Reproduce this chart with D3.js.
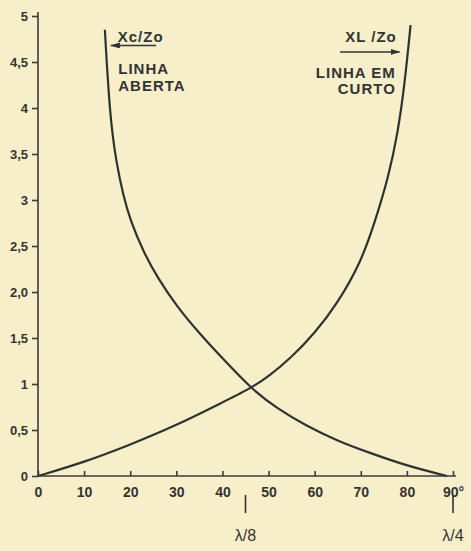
<!DOCTYPE html>
<head>
<meta charset="utf-8">
<style>
body { margin: 0; background: #f7efc9; }
svg { display: block; }
.tick text {
  font: bold 13px "Liberation Sans", Arial, sans-serif;
  fill: #333;
}
.note {
  font: bold 15px "Liberation Sans", Arial, sans-serif;
  fill: #333;
  letter-spacing: 1px;
}
</style>
</head>
<body>
<svg width="471" height="551"></svg>
<script src="https://d3js.org/d3.v7.min.js"></script>
<script>

// values (degrees, reactance / Zo)
var xlDeg = [0, 10, 20, 30, 40, 46, 50, 55, 60, 65, 70, 73, 76, 78, 79.5, 80.8];
var xlVal = [0, 0.15, 0.34, 0.55, 0.8, 0.95, 1.08, 1.29, 1.55, 1.88, 2.32, 2.75, 3.25, 3.72, 4.25, 4.9];

var xcDeg = [14.5, 15.6, 17, 18.5, 20, 23, 26, 30, 35, 40, 46.4, 52, 58, 65, 72, 80, 88.7];
var xcVal = [4.85, 3.9, 3.4, 3.05, 2.78, 2.42, 2.15, 1.85, 1.55, 1.28, 0.94, 0.73, 0.55, 0.38, 0.25, 0.11, 0];

var xTicks = [0, 10, 20, 30, 40, 50, 60, 70, 80, 90];
var xTickLabels = ["0", "10", "20", "30", "40", "50", "60", "70", "80", "90°"];
var yTicks = [0, 0.5, 1, 1.5, 2, 2.5, 3, 3.5, 4, 4.5, 5];
var yTickLabels = ["0", "0,5", "1", "1,5", "2,0", "2,5", "3", "3,5", "4", "4,5", "5"];

var marks = [45, 90];
var markLabels = ["λ/8", "λ/4"];

var svg = d3.select("svg");

var x = d3.scaleLinear().domain([0, 90]).range([38, 453]);
var y = d3.scaleLinear().domain([0, 5]).range([476, 16]);

svg.append("defs").append("marker")
    .attr("id", "head")
    .attr("viewBox", "0 0 10 6")
    .attr("refX", 9).attr("refY", 3)
    .attr("markerWidth", 10).attr("markerHeight", 6)
    .attr("markerUnits", "userSpaceOnUse")
    .attr("orient", "auto")
  .append("path")
    .attr("d", "M0,0L10,3L0,6Z")
    .attr("fill", "#333");

// axes
var xAxis = svg.append("g")
    .attr("transform", "translate(0," + y(0) + ")")
    .call(d3.axisBottom(x).tickValues(xTicks)
      .tickFormat(function(d, i) { return xTickLabels[i]; })
      .tickSizeInner(-5).tickSizeOuter(0).tickPadding(11));
xAxis.select(".domain").attr("d", "M" + x(0) + ",0H" + (x(90) + 3));
xAxis.selectAll(".tick text").style("font-size", "14px");

var yAxis = svg.append("g")
    .attr("transform", "translate(" + x(0) + ",0)")
    .call(d3.axisLeft(y).tickValues(yTicks)
      .tickFormat(function(d, i) { return yTickLabels[i]; })
      .tickSizeInner(6).tickSizeOuter(0).tickPadding(4));
yAxis.select(".domain").attr("d", "M0," + y(0) + "V" + (y(5) - 4));

svg.selectAll(".domain, .tick line")
    .attr("stroke", "#3a3a3a")
    .attr("stroke-width", 1.6);

// curves
var line = d3.line()
    .x(function(d) { return x(d[0]); })
    .y(function(d) { return y(d[1]); })
    .curve(d3.curveBasis);

svg.append("path")
    .datum(d3.zip(xlDeg, xlVal))
    .attr("d", line)
    .attr("fill", "none")
    .attr("stroke", "#2f3330")
    .attr("stroke-width", 2.2);

svg.append("path")
    .datum(d3.zip(xcDeg, xcVal))
    .attr("d", line)
    .attr("fill", "none")
    .attr("stroke", "#2f3330")
    .attr("stroke-width", 2.2);

// lambda markers under the x axis
marks.forEach(function(m, i) {
  svg.append("line")
      .attr("x1", x(m)).attr("x2", x(m))
      .attr("y1", 495).attr("y2", 513)
      .attr("stroke", "#333").attr("stroke-width", 1.6);
  svg.append("text")
      .attr("class", "note")
      .attr("x", x(m)).attr("y", 541)
      .attr("text-anchor", "middle")
      .style("font-weight", "normal")
      .style("font-size", "16px")
      .style("letter-spacing", "0px")
      .text(markLabels[i]);
});

// labels at the top of each curve
var open = svg.append("g");
open.append("text").attr("class", "note").attr("x", x(17.3)).attr("y", y(4.72)).text("Xc/Zo");
open.append("line")
    .attr("x1", x(25.6)).attr("x2", x(15.8))
    .attr("y1", y(4.68)).attr("y2", y(4.68))
    .attr("stroke", "#333").attr("stroke-width", 1.5)
    .attr("marker-end", "url(#head)");
open.append("text").attr("class", "note").attr("x", x(17.4)).attr("y", y(4.37)).text("LINHA");
open.append("text").attr("class", "note").attr("x", x(17.4)).attr("y", y(4.18)).text("ABERTA");

var shorted = svg.append("g").attr("text-anchor", "end");
shorted.append("text").attr("class", "note").attr("x", x(77.8)).attr("y", y(4.72)).text("XL /Zo");
shorted.append("line")
    .attr("x1", x(65.5)).attr("x2", x(78.4))
    .attr("y1", y(4.61)).attr("y2", y(4.61))
    .attr("stroke", "#333").attr("stroke-width", 1.5)
    .attr("marker-end", "url(#head)");
shorted.append("text").attr("class", "note").attr("x", x(77.6)).attr("y", y(4.33)).text("LINHA EM");
shorted.append("text").attr("class", "note").attr("x", x(77.6)).attr("y", y(4.15)).text("CURTO");

</script>
</body>
